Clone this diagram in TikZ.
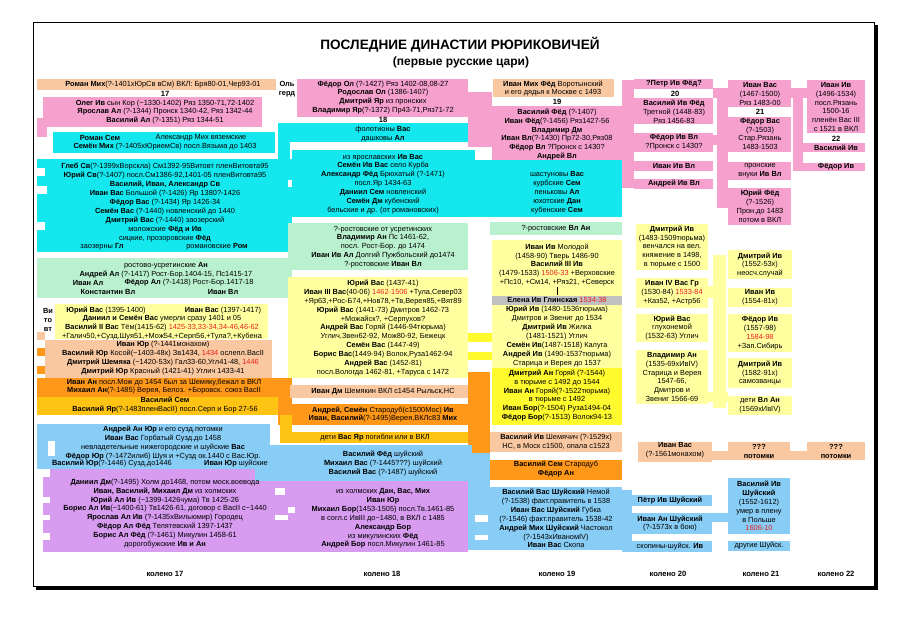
\documentclass[tikz,border=0pt]{standalone}
\usepackage{fontspec}
\setmainfont{Liberation Sans}
\definecolor{redt}{RGB}{235,30,30}
\definecolor{peach}{RGB}{250,200,160}
\definecolor{pinkc}{RGB}{245,160,205}
\definecolor{cyanc}{RGB}{20,232,238}
\definecolor{mint}{RGB}{185,240,205}
\definecolor{paley}{RGB}{255,255,160}
\definecolor{brighty}{RGB}{255,250,45}
\definecolor{grayc}{RGB}{192,192,192}
\definecolor{darko}{RGB}{255,152,25}
\definecolor{amber}{RGB}{255,195,20}
\definecolor{lblue}{RGB}{135,205,245}
\definecolor{viol}{RGB}{215,155,240}
\newcommand{\hb}[1]{\textbf{#1}}
\newcommand{\rd}[1]{\textcolor{redt}{#1}}
\begin{document}
\begin{tikzpicture}[x=1pt,y=-1pt,
  t/.style={font=\fontsize{7.4}{8.9}\selectfont, align=center, inner sep=0pt},
  num/.style={font=\fontsize{7.6}{9}\selectfont\bfseries, inner sep=0pt},
  lab/.style={font=\fontsize{7.6}{9}\selectfont\bfseries, inner sep=0pt}]
\useasboundingbox (0,0) rectangle (900,635);
\fill[white] (0,0) rectangle (900,635);
% frame
\draw[line width=0.8pt] (33,22) rectangle (874,586);
\fill[black] (874,25) rectangle (878,590);
\fill[black] (36,586) rectangle (878,590);
% title
\node[font=\fontsize{13.6}{15}\selectfont\bfseries, inner sep=0pt] (title) at (460,45) {ПОСЛЕДНИЕ ДИНАСТИИ РЮРИКОВИЧЕЙ};
\node[font=\fontsize{12}{14}\selectfont\bfseries, inner sep=0pt] (subtitle) at (461,62) {(первые русские цари)};

% ---------- row 1 / pink ----------
\fill[peach] (37,79) rectangle (276,90);
\node[t] (a1) at (163,84.5) {\hb{Роман Мих}(?-1401хЮрСв вСм) ВКЛ: Бря80-01,Чер93-01};
\node[num] (n17) at (165,93.5) {17};
\node[t] (olg) at (287,89) {\hb{Оль}\\\hb{герд}};
\fill[pinkc] (43,97) rectangle (262,127);
\fill[pinkc] (37,118) rectangle (47,137);
\node[t] (b1) at (165,112) {\hb{Олег Ив} сын Кор (\textasciitilde1330-1402) Ряз 1350-71,72-1402\\\hb{Ярослав Ал} (?-1344) Пронск 1340-42, Ряз 1342-44\\\hb{Василий Ал} (?-1351) Ряз 1344-51};
\fill[pinkc] (297,79) rectangle (468,117);
\fill[pinkc] (468,92) rectangle (492,147);
\node[t] (c1) at (383,97.5) {\hb{Фёдор Ол} (?-1427) Ряз 1402-08,08-27\\\hb{Родослав Ол} (1386-1407)\\\hb{Дмитрий Яр} из пронских\\\hb{Владимир Яр}(?-1372) Пр43-71,Ряз71-72};
\node[num] (n18) at (383,120) {18};
\fill[peach] (493,79) rectangle (614,97);
\node[t] (d1) at (553,88.5) {\hb{Иван Мих Фёд} Воротынский\\и его дядья к Москве с 1493};
\node[num] (n19) at (557,102) {19};
\fill[pinkc] (492,106) rectangle (622,162);
\node[t] (e1) at (557,134.5) {\hb{Василий Фёд} (?-1407)\\\hb{Иван Фёд}(?-1456) Ряз1427-56\\\hb{Владимир Дм}\\\hb{Иван Вл}(?-1430) Пр72-30,Ряз08\\\hb{Фёдор Вл} ?Пронск с 1430?\\\hb{Андрей Вл}};
\fill[pinkc] (622,80) rectangle (634,188);
% col 20 pink
\fill[pinkc] (634,79) rectangle (713,89);
\node[t] (p20a) at (674,84) {\hb{?Петр Ив Фёд?}};
\node[num] (n20) at (675,94) {20};
\fill[pinkc] (634,98) rectangle (713,124);
\node[t] (p20b) at (674,111.5) {\hb{Василий Ив Фёд}\\Третной (1448-83)\\Ряз 1456-83};
\fill[pinkc] (634,133) rectangle (713,152);
\node[t] (p20c) at (674,142) {\hb{Фёдор Ив Вл}\\?Пронск с 1430?};
\fill[pinkc] (634,161) rectangle (713,171);
\node[t] (p20d) at (674,166) {\hb{Иван Ив Вл}};
\fill[pinkc] (634,179) rectangle (713,189);
\node[t] (p20e) at (674,184) {\hb{Андрей Ив Вл}};
% col 21 pink
\fill[pinkc] (713,88) rectangle (728,98);
\fill[pinkc] (717,88) rectangle (728,208);
\fill[pinkc] (713,135) rectangle (728,145);
\fill[pinkc] (728,80) rectangle (791,107);
\node[t] (p21a) at (760,94) {\hb{Иван Вас}\\(1467-1500)\\Ряз 1483-00};
\node[num] (n21) at (760,112) {21};
\fill[pinkc] (728,117) rectangle (791,152);
\node[t] (p21b) at (760,134) {\hb{Фёдор Вас}\\(?-1503)\\Стар.Рязань\\1483-1503};
\fill[pinkc] (728,162) rectangle (791,180);
\node[t] (p21c) at (760,171) {пронские\\внуки \hb{Ив Вл}};
\fill[pinkc] (728,188) rectangle (791,225);
\node[t] (p21d) at (760,206.5) {\hb{Юрий Фёд}\\(?-1526)\\Прон.до 1483\\потом в ВКЛ};
% col 22 pink
\fill[pinkc] (791,88) rectangle (807,98);
\fill[pinkc] (793,88) rectangle (803,171);
\fill[pinkc] (803,143) rectangle (807,152);
\fill[pinkc] (803,163) rectangle (807,171);
\fill[pinkc] (807,80) rectangle (865,133);
\node[t] (p22a) at (836,107) {\hb{Иван Ив}\\(1496-1534)\\посл.Рязань\\1500-16\\пленён Вас III\\с 1521 в ВКЛ};
\node[num] (n22) at (836,139) {22};
\fill[pinkc] (807,143) rectangle (865,152);
\node[t] (p22b) at (836,147.5) {\hb{Василий Ив}};
\fill[pinkc] (807,163) rectangle (865,171);
\node[t] (p22c) at (836,167) {\hb{Фёдор Ив}};

% ---------- cyan ----------
\fill[cyanc] (53,132) rectangle (275,153);
\node[t] (f1) at (100,138) {\hb{Роман Сем}};
\node[t] (f2) at (201,138) {Александр Мих вяземские};
\node[t] (f3) at (165,147) {\hb{Семён Мих} (?-1405хЮриемСв) посл.Вязьма до 1403};
\fill[cyanc] (37,159) rectangle (292,252);
\fill[white] (37,168) rectangle (45,176);
\fill[white] (37,186) rectangle (47,194);
\fill[white] (37,222) rectangle (45,230);
\fill[white] (288,180) rectangle (296,187);
\node[t] (g1) at (165,202.6) {\hb{Глеб Св}(?-1399хВорскла) См1392-95Витовт пленВитовта95\\\hb{Юрий Св}(?-1407) посл.См1386-92,1401-05 пленВитовта95\\\hb{Василий, Иван, Александр Св}\\\hb{Иван Вас} Большой (?-1426) Яр 1380?-1426\\\hb{Фёдор Вас} (?-1434) Яр 1426-34\\\hb{Семён Вас} (?-1440) новленский до 1440\\\hb{Дмитрий Вас} (?-1440) заозерский\\моложские \hb{Фёд и Ив}\\сицкие, прозоровские \hb{Фёд}};
\node[t] (g10a) at (102,247) {заозерны \hb{Гл}};
\node[t] (g10b) at (217,247) {романовские \hb{Ром}};
\fill[cyanc] (278,123) rectangle (468,142);
\fill[cyanc] (278,123) rectangle (290,160);
\node[t] (h1) at (383,134.5) {фолотионы \hb{Вас}\\дашковы \hb{Ал}};
\fill[cyanc] (292,150) rectangle (475,217);
\fill[cyanc] (475,160) rectangle (622,217);
\node[t] (i1) at (383,184) {из ярославских \hb{Ив Вас}\\\hb{Семён Ив Вас} село Курба\\\hb{Александр Фёд} Брюхатый (?-1471)\\посл.Яр 1434-63\\\hb{Даниил Сем} новленский\\\hb{Семён Дм} кубенский\\бельские и др. (от романовских)};
\node[t] (j1) at (557,193) {шастуновы \hb{Вас}\\курбские \hb{Сем}\\пеньковы \hb{Ал}\\юхотские \hb{Дан}\\кубенские \hb{Сем}};

% ---------- mint ----------
\fill[mint] (37,258) rectangle (292,298);
\fill[mint] (288,223) rectangle (468,270);
\fill[mint] (490,222) rectangle (622,235);
\node[t] (k1) at (166,270) {ростово-усретинские \hb{Ан}\\\hb{Андрей Ал} (?-1417) Рост-Бор.1404-15, Пс1415-17};
\node[t] (k2) at (88,283) {\hb{Иван Ал}};
\node[t] (k3) at (189,283) {\hb{Фёдор Ал} (?-1418) Рост-Бор.1417-18};
\node[t] (k4) at (108,292) {\hb{Константин Вл}};
\node[t] (k5) at (223,292) {\hb{Иван Вл}};
\node[t] (l1) at (383,247) {?-ростовские от усретинских\\\hb{Владимир Ан} Пс 1461-62,\\посл. Рост-Бор. до 1474\\\hb{Иван Ив Ал} Долгий Пужбольский до1474\\?-ростовские \hb{Иван Вл}};
\node[t] (m1) at (556,228.5) {?-ростовские \hb{Вл Ан}};

% ---------- col 17 yellow / orange ----------
\fill[paley] (55,304) rectangle (268,339);
\node[t] (vit) at (48,320) {\hb{Ви}\\\hb{то}\\\hb{вт}};
\node[t] (n1a) at (106,311) {\hb{Юрий Вас} (1395-1400)};
\node[t] (n1b) at (223,311) {\hb{Иван Вас} (1397-1417)};
\node[t] (n2) at (162,328) {\hb{Даниил и Семён Вас} умерли сразу 1401 и 05\\\hb{Василий II Вас} Тём(1415-62) \rd{1425-33,33-34,34-46,46-62}\\+Галич50,+Сузд.Шуя51,+Мож54,+Серп56,+Тула?,+Кубена};
\fill[peach] (45,340) rectangle (272,378);
\fill[peach] (37,332) rectangle (45,340);
\fill[darko] (37,348) rectangle (45,356);
\fill[darko] (37,366) rectangle (45,374);
\node[t] (p1) at (163,358) {\hb{Иван Юр} (?-1441монахом)\\\hb{Василий Юр} Косой(\textasciitilde1403-48х) Зв1434, \rd{1434} ослепл.ВасII\\\hb{Дмитрий Шемяка} (\textasciitilde1420-53х) Гал33-60,Угл41-48, \rd{1446}\\\hb{Дмитрий Юр} Красный (1421-41) Углич 1433-41};
\fill[darko] (37,378) rectangle (292,397);
\fill[amber] (37,397) rectangle (280,415);
\fill[darko] (278,378) rectangle (292,425);
\node[t] (o1) at (164,386.5) {\hb{Иван Ан} посл.Мож до 1454 был за Шемяку,бежал в ВКЛ\\\hb{Михаил Ан}(?-1485) Верея, Белоз. +Боровск. союз ВасII};
\node[t] (am1) at (165,405) {\hb{Василий Сем}\\\hb{Василий Яр}(?-1483пленВасII) посл.Серп и Бор 27-56};

% ---------- col 18 yellow / orange ----------
\fill[paley] (288,277) rectangle (468,378);
\node[t] (o18) at (383,328) {\hb{Юрий Вас} (1437-41)\\\hb{Иван III Вас}(40-06) \rd{1462-1506} +Тула,Север03\\+Яр63,+Рос-Б74,+Нов78,+Тв,Верея85,+Вят89\\\hb{Юрий Вас} (1441-73) Дмитров 1462-73\\+Можайск?, +Серпухов?\\\hb{Андрей Вас} Горяй (1446-94тюрьма)\\Углич,Звен62-92, Мож80-92, Бежецк\\\hb{Семён Вас} (1447-49)\\\hb{Борис Вас}(1449-94) Волок,Руза1462-94\\\hb{Андрей Вас} (1452-81)\\посл.Вологда 1462-81, +Таруса с 1472};
\fill[brighty] (468,333) rectangle (492,342);
\fill[brighty] (468,352) rectangle (492,360);
\fill[peach] (290,385) rectangle (468,398);
\node[t] (q1) at (383,391.5) {\hb{Иван Дм} Шемякин ВКЛ с1454 Рыльск,НС};
\fill[darko] (288,404) rectangle (468,425);
\node[t] (q2) at (383,414.5) {\hb{Андрей, Семён} Стародуб(с1500Мос) \hb{Ив}\\\hb{Иван, Василий}(?-1495)Верея,ВКЛс83 \hb{Мих}};
\fill[amber] (280,415) rectangle (292,443);
\fill[amber] (288,432) rectangle (468,443);
\node[t] (q3) at (375,437.5) {дети \hb{Вас Яр} погибли или в ВКЛ};
\fill[darko] (468,372) rectangle (490,480);

% ---------- col 19 yellow ----------
\fill[paley] (492,240) rectangle (622,368);
\node[t] (v19a) at (557,265) {\hb{Иван Ив} Молодой\\(1458-90) Тверь 1486-90\\\hb{Василий III Ив}\\(1479-1533) \rd{1506-33} +Верховские\\+Пс10, +См14, +Ряз21, +Северск};
\node[t, fill=grayc, minimum width=130pt, minimum height=9pt] (elena) at (557,300) {\hb{Елена Ив Глинская} \rd{1534-38}};
\draw[line width=0.8pt] (v19a) -- (elena);
\node[t] (v19b) at (557,336.5) {\hb{Юрий Ив} (1480-1536тюрьма)\\Дмитров и Звениг до 1534\\\hb{Дмитрий Ив} Жилка\\(1481-1521) Углич\\\hb{Семён Ив}(1487-1518) Калуга\\\hb{Андрей Ив} (1490-1537тюрьма)\\Старица и Верея до 1537};
\fill[brighty] (492,368) rectangle (622,425);
\node[t] (v19c) at (557,395.5) {\hb{Дмитрий Ан} Горяй (?-1544)\\в тюрьме с 1492 до 1544\\\hb{Иван Ан} Горяй(?-1522тюрьма)\\в тюрьме с 1492\\\hb{Иван Бор}(?-1504) Руза1494-04\\\hb{Фёдор Бор}(?-1513) Волок94-13};
\fill[peach] (490,432) rectangle (622,452);
\node[t] (v19d) at (556,441.5) {\hb{Василий Ив} Шемячич (?-1529х)\\НС, в Моск с1500, опала с1523};
\fill[darko] (490,460) rectangle (622,480);
\node[t] (v19e) at (556,469) {\hb{Василий Сем} Стародуб\\\hb{Фёдор Ан}};

% ---------- col 20/21 yellow ----------
\fill[paley] (636,224) rectangle (708,270);
\node[t] (y20a) at (672,247) {\hb{Дмитрий Ив}\\(1483-1509тюрьма)\\венчался на вел.\\княжение в 1498,\\в тюрьме с 1500};
\fill[paley] (636,278) rectangle (708,308);
\node[t] (y20b) at (672,293) {\hb{Иван IV Вас Гр}\\(1530-84) \rd{1533-84}\\+Каз52, +Астр56};
\fill[paley] (636,314) rectangle (708,342);
\node[t] (y20c) at (672,328) {\hb{Юрий Вас}\\глухонемой\\(1532-63) Углич};
\fill[paley] (636,350) rectangle (708,404);
\node[t] (y20d) at (672,377) {\hb{Владимир Ан}\\(1535-69хИвIV)\\Старица и Верея\\1547-66,\\Дмитров и\\Звениг 1566-69};
\fill[paley] (708,286) rectangle (726,298);
\fill[paley] (708,392) rectangle (728,402);
\fill[paley] (713,255) rectangle (726,408);
\fill[paley] (728,250) rectangle (792,279);
\node[t] (y21a) at (760,265) {\hb{Дмитрий Ив}\\(1552-53х)\\неосч.случай};
\fill[paley] (728,288) rectangle (792,307);
\node[t] (y21b) at (760,297) {\hb{Иван Ив}\\(1554-81х)};
\fill[paley] (728,314) rectangle (792,352);
\node[t] (y21c) at (760,333) {\hb{Фёдор Ив}\\(1557-98)\\\rd{1584-98}\\+Зап.Сибирь};
\fill[paley] (728,358) rectangle (792,388);
\node[t] (y21d) at (760,373) {\hb{Дмитрий Ив}\\(1582-91х)\\самозванцы};
\fill[paley] (728,396) rectangle (792,415);
\node[t] (y21e) at (760,405.5) {дети \hb{Вл Ан}\\(1569хИвIV)};

% ---------- peach row col 20-22 ----------
\fill[peach] (712,451) rectangle (807,460);
\fill[peach] (638,442) rectangle (712,462);
\node[t] (pe20) at (675,450) {\hb{Иван Вас}\\(?-1561монахом)};
\fill[peach] (728,442) rectangle (790,460);
\node[t] (pe21) at (759,451) {\hb{???}\\\hb{потомки}};
\fill[peach] (807,442) rectangle (865,460);
\node[t] (pe22) at (836,451) {\hb{???}\\\hb{потомки}};

% ---------- light blue / violet ----------
\fill[lblue] (37,424) rectangle (270,469);
\fill[white] (48,441) rectangle (55,456);
\fill[viol] (43,469) rectangle (468,552);
\fill[white] (43,469) rectangle (50,477);
\fill[white] (43,497) rectangle (50,503);
\fill[white] (43,515) rectangle (50,520);
\fill[white] (43,533) rectangle (50,540);
\fill[white] (275,488) rectangle (285,495);
\fill[white] (288,507) rectangle (295,513);
\fill[white] (275,515) rectangle (288,520);
\fill[lblue] (255,445) rectangle (472,481);
\fill[lblue] (468,453) rectangle (490,550);
\fill[white] (475,515) rectangle (488,522);
\fill[white] (475,535) rectangle (488,540);
\fill[lblue] (490,487) rectangle (622,550);
\fill[lblue] (622,490) rectangle (632,552);
\node[t] (r1) at (163,442.8) {\hb{Андрей Ан Юр} и его сузд.потомки\\\hb{Иван Вас} Горбатый Сузд.до 1458\\невладетельные нижегородские и шуйские \hb{Вас}\\\hb{Фёдор Юр} (?-1472или6) Шуя и +Сузд ок.1440 с Вас.Юр.};
\node[t] (r2a) at (112,464) {\hb{Василий Юр}(?-1446) Сузд.до1446};
\node[t] (r2b) at (236,464) {\hb{Иван Юр} шуйские};
\node[t] (s1) at (383,463.5) {\hb{Василий Фёд} шуйский\\\hb{Михаил Вас} (?-1445???) шуйский\\\hb{Василий Вас} (?-1487) шуйский};
\node[t] (u1) at (165,513.5) {\hb{Даниил Дм}(?-1495) Холм до1468, потом моск.воевода\\\hb{Иван, Василий, Михаил Дм} из холмских\\\hb{Юрий Ал Ив} (\textasciitilde1399-1426чума) Тв 1425-26\\\hb{Борис Ал Ив}(\textasciitilde1400-61) Тв1426-61, договор с ВасII с\textasciitilde1440\\\hb{Ярослав Ал Ив} (?-1435хВильюмир) Городец\\\hb{Фёдор Ал Фёд} Телятевский 1397-1437\\\hb{Борис Ал Фёд} (?-1461) Микулин 1458-61\\дорогобужские \hb{Ив и Ан}};
\node[t] (u2) at (383,518.5) {из холмских \hb{Дан, Вас, Мих}\\\hb{Иван Юр}\\\hb{Михаил Бор}(1453-1505) посл.Тв.1461-85\\в согл.с ИвIII до\textasciitilde1480, в ВКЛ с 1485\\\hb{Александр Бор}\\из микулинских \hb{Фёд}\\\hb{Андрей Бор} посл.Микулин 1461-85};
\node[t] (w1) at (556,518.5) {\hb{Василий Вас Шуйский} Немой\\(?-1538) факт.правитель в 1538\\\hb{Иван Вас Шуйский} Губка\\(?-1546) факт.правитель 1538-42\\\hb{Андрей Мих Шуйский} Частокол\\(?-1543хИваномIV)\\\hb{Иван Вас} Скопа};
\fill[lblue] (628,495) rectangle (712,506);
\node[t] (b20a) at (670,500.5) {\hb{Пётр Ив Шуйский}};
\fill[lblue] (628,513) rectangle (712,534);
\node[t] (b20b) at (670,523.5) {\hb{Иван Ан Шуйский}\\(?-1573х в бою)};
\fill[lblue] (628,541) rectangle (712,552);
\node[t] (b20c) at (670,546.5) {скопины-шуйск. \hb{Ив}};
\fill[lblue] (712,513) rectangle (728,522);
\fill[lblue] (728,478) rectangle (790,534);
\node[t] (b21a) at (759,506) {\hb{Василий Ив}\\\hb{Шуйский}\\(1552-1612)\\умер в плену\\в Польше\\\rd{1606-10}};
\fill[lblue] (728,541) rectangle (790,551);
\node[t] (b21b) at (759,546) {другие Шуйск.};

% ---------- bottom labels ----------
\node[lab] (k17) at (165,574) {колено 17};
\node[lab] (k18) at (382,574) {колено 18};
\node[lab] (k19) at (557,574) {колено 19};
\node[lab] (k20) at (668,574) {колено 20};
\node[lab] (k21) at (761,574) {колено 21};
\node[lab] (k22) at (836,574) {колено 22};
\end{tikzpicture}
\end{document}
